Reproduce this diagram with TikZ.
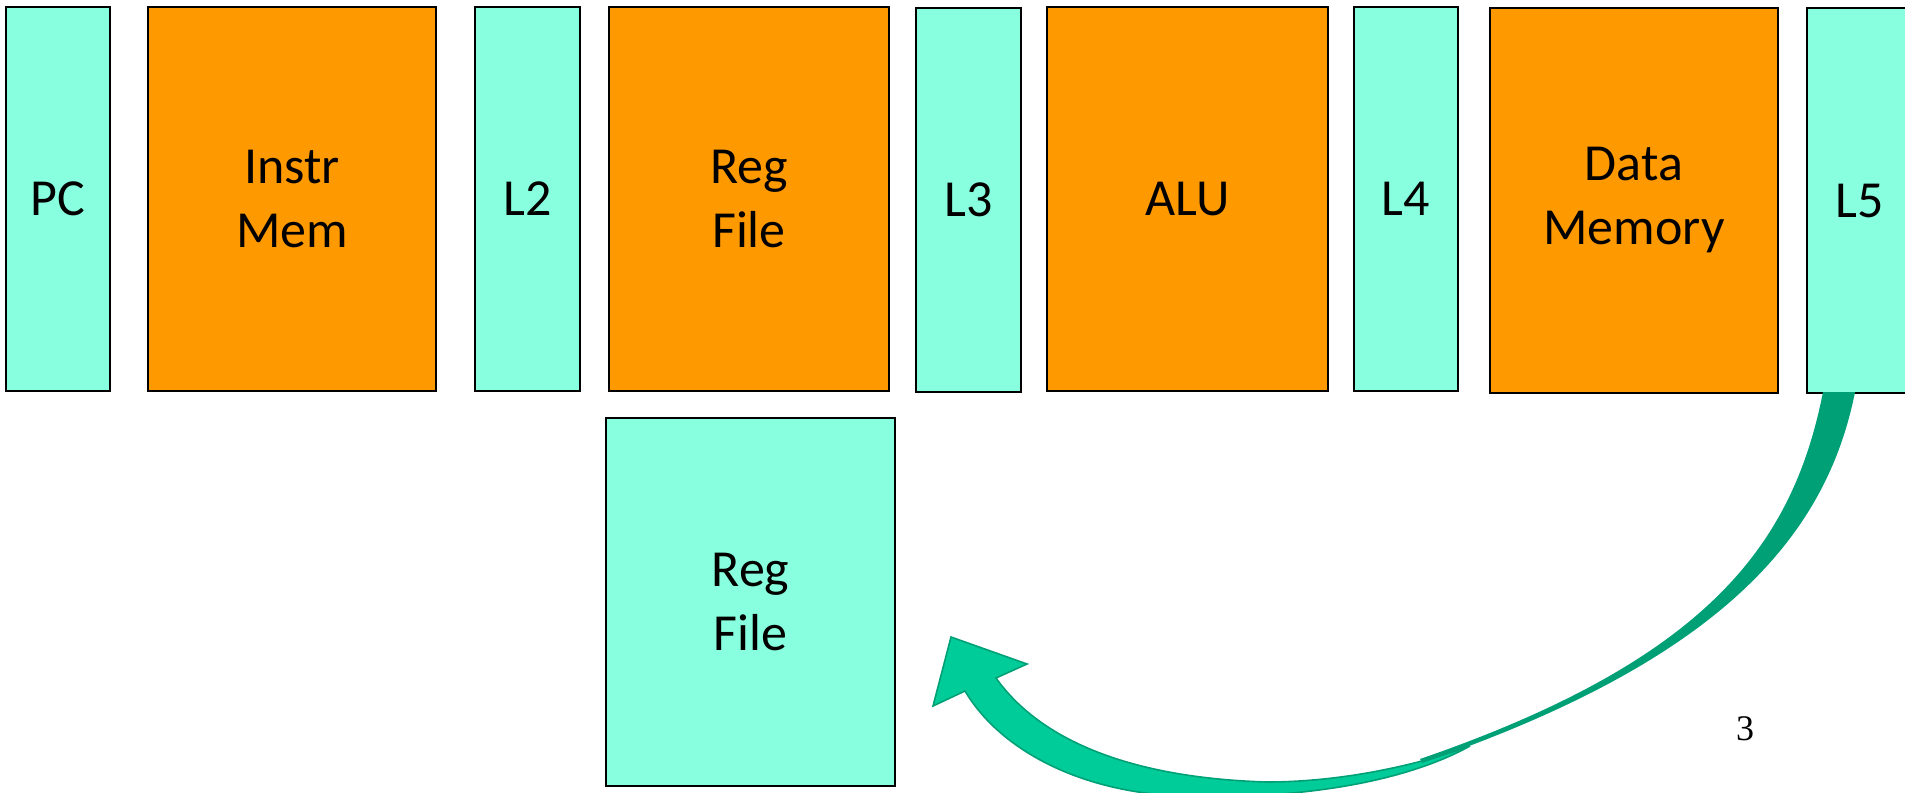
\documentclass[tikz,border=0pt]{standalone}
\usepackage{fontspec}
\setmainfont{Carlito}
\newfontfamily\timesf{Liberation Serif}
\definecolor{aqua}{HTML}{88FFDE}
\definecolor{orng}{HTML}{FF9900}
\definecolor{dkgreen}{HTML}{00A077}
\definecolor{ltgreen}{HTML}{00CC99}
\begin{document}
\begin{tikzpicture}[x=0.5pt,y=-0.5pt,
  box/.style={draw=black, line width=0.9pt, inner sep=0pt, align=center,
    minimum height=192pt, font=\fontsize{26}{32}\selectfont},
  stage/.style={box, fill=aqua, minimum width=52.5pt},
  unit/.style={box, fill=orng}]
\useasboundingbox (0,0) rectangle (1905,792);
\node[stage, minimum width=52pt] (pc) at (58,199) {PC};
\node[unit, minimum width=144pt] (imem) at (292,199) {Instr\\Mem};
\node[stage] (l2) at (527.5,199) {L2};
\node[unit, minimum width=140pt] (rf) at (749,199) {Reg\\File};
\node[stage] (l3) at (968.5,200) {L3};
\node[unit, minimum width=140.5pt] (alu) at (1187.5,199) {ALU};
\node[stage, minimum width=52pt] (l4) at (1406,199) {L4};
\node[unit, minimum width=144pt, minimum height=192.5pt] (dmem) at (1634,200.5) {Data\\Memory};
\node[stage, minimum height=192.5pt] (l5) at (1859.5,200.5) {L5};
\node[stage, minimum width=144.5pt, minimum height=184pt] (rfw) at (750.5,602) {Reg\\File};
% write-back arrow: front face with head
\filldraw[fill=ltgreen, draw=dkgreen, line width=0.8pt, line join=miter]
  (996,678) .. controls (1040,740) and (1130,778) .. (1267,782)
  .. controls (1340,782) and (1415,766) .. (1470,746)
  .. controls (1405,782) and (1300,800) .. (1180,796)
  .. controls (1080,792) and (1000,750) .. (965,691)
  -- (933,706) -- (951,637) -- (1027,664) -- cycle;
% write-back arrow: back face from L5
\fill[dkgreen] (1823,392) .. controls (1793,543) and (1710,659) .. (1420,759)
  -- (1422,763) .. controls (1712,663) and (1825,543) .. (1855,392) -- cycle;
\node[font=\timesf\fontsize{18}{20}\selectfont] (pg) at (1745,729) {3};
\end{tikzpicture}
\end{document}
